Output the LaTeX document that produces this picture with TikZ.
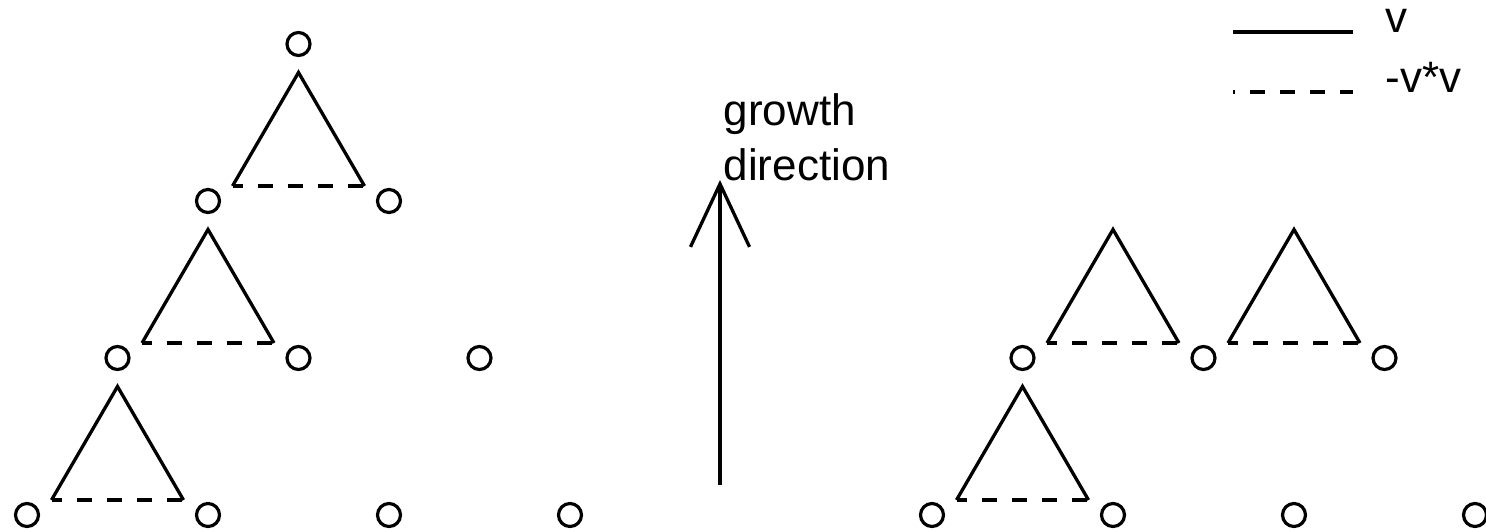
\documentclass[tikz,border=0pt]{standalone}
\usepackage{fontspec}
\setmainfont{Liberation Sans}
\usetikzlibrary{arrows.meta}
\begin{document}
\begin{tikzpicture}[x=1pt,y=-1pt, line width=3.3pt,
  site/.style={circle, draw, line width=3.2pt, minimum size=23pt, inner sep=0pt},
  bond/.style={line width=3.3pt, line join=miter},
  dbond/.style={line width=3.3pt, dash pattern=on 15pt off 15pt, dash phase=5pt},
  lbl/.style={font=\fontsize{44}{53}\selectfont, inner sep=0pt, anchor=base west}]
\useasboundingbox (0,0) rectangle (1486,531);
% lattice sites
\foreach \r/\j in {0/3,1/2,1/4,2/1,2/3,2/5,3/0,3/2,3/4,3/6,2/11,2/13,2/15,3/10,3/12,3/14,3/16}
  \node[site] (s\r-\j) at ({27+90.5*\j},{44+157*\r}) {};
% triangles
\foreach \r/\j in {0/3,1/2,2/1,1/12,1/14,2/11}{
  \coordinate (ta\r-\j) at ({27+90.5*\j},{44+157*\r+28.5});
  \coordinate (tl\r-\j) at ({27+90.5*\j-66},{44+157*\r+142});
  \coordinate (tr\r-\j) at ({27+90.5*\j+66},{44+157*\r+142});
  \draw[bond] (tl\r-\j) -- (ta\r-\j) -- (tr\r-\j);
  \draw[dbond] (tl\r-\j) -- (tr\r-\j);
}
% growth arrow
\coordinate (arrB) at (720,485);
\coordinate (arrT) at (720,180);
\draw[-{Straight Barb[length=63pt,width=59pt]}] (arrB) -- (arrT);
\node[lbl] (g1) at (722,125) {growth};
\node[lbl] (g2) at (722,180) {direction};
% legend
\coordinate (lv1) at (1233,32);
\coordinate (lv2) at (1353,32);
\draw (lv1) -- (lv2);
\node[lbl] (lvt) at (1384,32) {v};
\coordinate (lw1) at (1233,92);
\coordinate (lw2) at (1353,92);
\draw[dash pattern=on 15pt off 15pt, dash phase=13pt] (lw1) -- (lw2);
\node[lbl] (lwt) at (1384,92) {-v*v};
\end{tikzpicture}
\end{document}
